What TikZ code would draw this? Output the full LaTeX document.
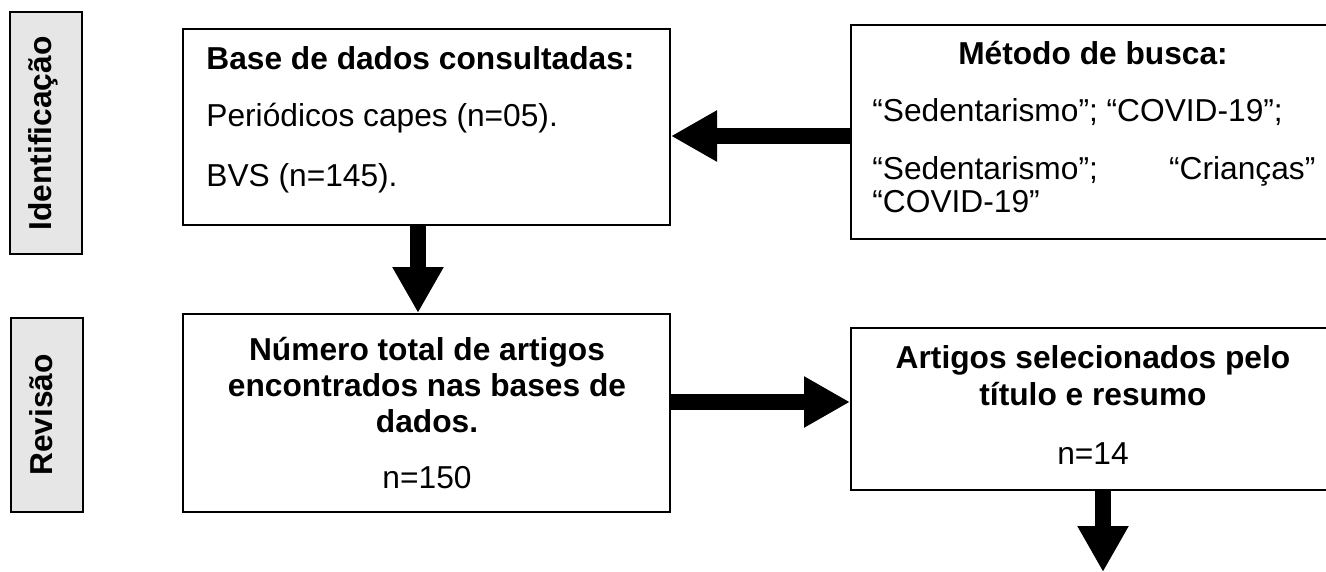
\documentclass[tikz,border=0pt]{standalone}
\usepackage{fontspec}
\setmainfont{Liberation Sans}
\usetikzlibrary{arrows.meta}
\definecolor{cinza}{HTML}{E6E6E6}
\tikzset{
  caixa/.style={draw, line width=1pt, inner sep=0pt},
  etapa/.style={caixa, fill=cinza, minimum width=36pt},
  txt/.style={inner sep=0pt, font=\fontsize{15.85}{18}\selectfont},
  negrito/.style={inner sep=0pt, font=\fontsize{15.85}{18}\selectfont\bfseries},
  seta/.style={line width=8pt, -{Triangle[length=23pt,width=24pt]}}
}

\begin{document}
\begin{tikzpicture}[x=0.5pt,y=-0.5pt]
\useasboundingbox (0,0) rectangle (1326,572);
%\draw[help lines,step=100] (0,0) grid (1326,572);
\node[etapa, minimum height=121pt] (ident) at (46,133) {};
\node[negrito, rotate=90, anchor=base] (identtxt) at (51,133.5) {Identificação};
\node[etapa, minimum height=97pt] (revisao) at (47,415) {};
\node[negrito, rotate=90, anchor=base] (revisaotxt) at (52,415) {Revisão};

\node[caixa, minimum width=243.5pt, minimum height=98pt] (base) at (426.5,127) {};
\node[negrito, anchor=base west] (basetit) at (206,70) {Base de dados consultadas:};
\node[txt, anchor=base west] (capes) at (206,127) {Periódicos capes (n=05).};
\node[txt, anchor=base west] (bvs) at (206,187) {BVS (n=145).};

\node[caixa, minimum width=242.5pt, minimum height=107pt] (metodo) at (1093.5,132) {};
\node[negrito, anchor=base] (metodotit) at (1093,65) {Método de busca:};
\node[txt, anchor=base west] (termo1) at (872,122) {“Sedentarismo”; “COVID-19”;};
\node[txt, anchor=base west] (termo2) at (872,180) {\makebox[221.5pt]{“Sedentarismo”;\hfill“Crianças”}};
\node[txt, anchor=base west] (termo3) at (872,213) {“COVID-19”};

\node[caixa, minimum width=243.5pt, minimum height=99pt] (num) at (426.5,413) {};
\node[negrito, anchor=base] (numtit1) at (427,360) {Número total de artigos};
\node[negrito, anchor=base] (numtit2) at (427,396) {encontrados nas bases de};
\node[negrito, anchor=base] (numtit3) at (427,432) {dados.};
\node[txt, anchor=base] (numn) at (427,488) {n=150};

\node[caixa, minimum width=242.5pt, minimum height=81pt] (sel) at (1093.5,409) {};
\node[negrito, anchor=base] (seltit1) at (1093,368) {Artigos selecionados pelo};
\node[negrito, anchor=base] (seltit2) at (1093,405) {título e resumo};
\node[txt, anchor=base] (seln) at (1093,464) {n=14};

\draw[seta] ([xshift=-4.25pt]base.south) -- ([xshift=-4.25pt]num.north);
\draw[seta] ([yshift=-2pt]metodo.west) -- ([yshift=-2pt]metodo.west -| base.east);
\draw[seta] ([yshift=5.5pt]num.east) -- ([yshift=5.5pt]num.east -| sel.west);
\coordinate (fim) at (1103,572);
\draw[seta] (sel.south -| fim) -- (fim);
\end{tikzpicture}
\end{document}
